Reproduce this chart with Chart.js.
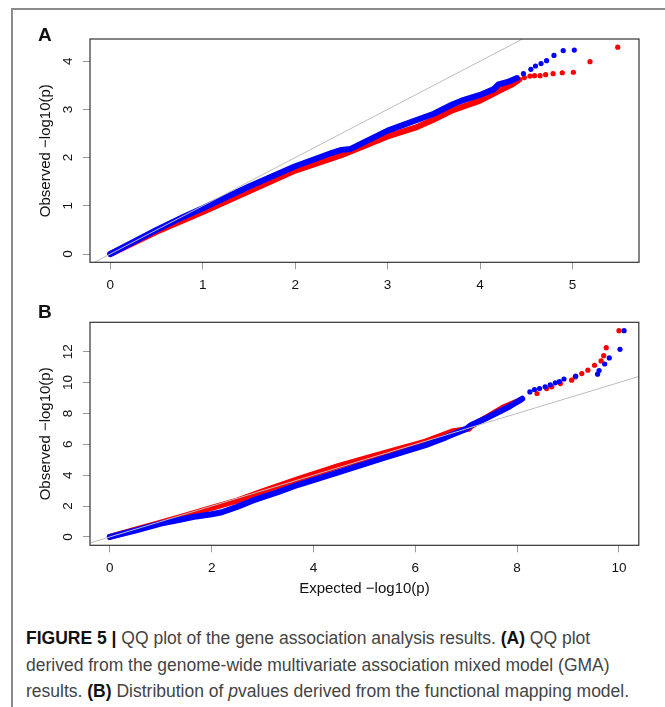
<!DOCTYPE html>
<html>
<head>
<meta charset="utf-8">
<script src="https://cdn.jsdelivr.net/npm/chart.js@4.4.1/dist/chart.umd.min.js"></script>
<style>
html, body { margin: 0; padding: 0; background: #fff; }
body { width: 665px; height: 707px; position: relative; overflow: hidden; font-family: "Liberation Sans", Arial, sans-serif; }
#frame { position: absolute; left: 11px; top: 8px; width: 670px; height: 720px; border-left: 2px solid #8c8c8c; border-top: 2px solid #8c8c8c; }
canvas { position: absolute; left: 0; }
#qqA { top: 0; }
#qqB { top: 290px; }
.tag { position: absolute; left: 38px; font-weight: bold; font-size: 19px; line-height: 1; color: #111; }
#caption { position: absolute; left: 26px; top: 625px; font-family: "Liberation Sans", Arial, sans-serif; font-size: 17.5px; line-height: 26.5px; color: #444; white-space: nowrap; }
#caption b { font-weight: 700; color: #111; }
</style>
</head>
<body>
<div id="frame"></div>
<canvas id="qqA" width="665" height="300"></canvas>
<canvas id="qqB" width="665" height="320"></canvas>
<div class="tag" style="top:25px">A</div>
<div class="tag" style="top:302px">B</div>
<div id="caption"><b>FIGURE 5 |</b> QQ plot of the gene association analysis results. <b>(A)</b> QQ plot<br>derived from the genome-wide multivariate association mixed model (GMA)<br>results. <b>(B)</b> Distribution of <i>p</i>values derived from the functional mapping model.</div>
<script>
// panel A: dense part of each curve (drawn as a thick line) and the sparse tail points
const aBlueBandX = [0, 0.5, 0.8, 1, 1.5, 2, 2.4, 2.5, 2.6, 3, 3.2, 3.5, 3.7, 3.8, 4, 4.15, 4.2, 4.3, 4.4];
const aBlueBandY = [0, 0.5, 0.78, 0.95, 1.4, 1.82, 2.1, 2.16, 2.18, 2.56, 2.7, 2.91, 3.1, 3.18, 3.3, 3.42, 3.52, 3.57, 3.65];
const aBlueTailX = [4.47, 4.55, 4.6, 4.66, 4.72, 4.8, 4.9, 5.02];
const aBlueTailY = [3.74, 3.83, 3.9, 3.95, 4.01, 4.12, 4.22, 4.23];
const aRedBandX = [0, 0.5, 1, 1.5, 2, 2.5, 3, 3.3, 3.5, 3.7, 4, 4.2, 4.35, 4.41];
const aRedBandY = [0, 0.46, 0.87, 1.3, 1.73, 2.05, 2.44, 2.62, 2.79, 2.98, 3.18, 3.38, 3.52, 3.6];
const aRedTailX = [4.43, 4.48, 4.54, 4.59, 4.65, 4.71, 4.79, 4.89, 5.01, 5.19, 5.49];
const aRedTailY = [3.62, 3.66, 3.69, 3.7, 3.7, 3.72, 3.74, 3.76, 3.77, 3.99, 4.29];
const aXTicks = [0, 1, 2, 3, 4, 5];
const aYTicks = [0, 1, 2, 3, 4];

// panel B
const bBlueBandX = [0, 0.5, 1, 1.4, 1.7, 2, 2.2, 2.5, 2.8, 3.3, 3.7, 4.5, 5.35, 6.2, 6.6, 7, 7.1, 7.4, 7.85, 8.1];
const bBlueBandY = [0, 0.42, 0.86, 1.13, 1.33, 1.47, 1.6, 1.95, 2.35, 2.9, 3.38, 4.2, 5.08, 5.95, 6.45, 7.0, 7.25, 7.7, 8.45, 8.95];
const bBlueTailX = [8.25, 8.34, 8.44, 8.55, 8.65, 8.75, 8.83, 8.92, 9.15, 9.58, 9.61, 9.72, 9.81, 10.02, 10.1];
const bBlueTailY = [9.39, 9.55, 9.61, 9.72, 9.85, 9.98, 10.06, 10.23, 10.41, 10.54, 10.78, 11.2, 11.59, 12.15, 13.36];
const bRedBandX = [0, 0.5, 1, 1.5, 2, 2.5, 3, 3.7, 4.5, 5.35, 6.2, 6.75, 6.95, 7.05, 7.1, 7.4, 7.75, 8.06];
const bRedBandY = [0, 0.47, 0.93, 1.4, 1.88, 2.35, 2.95, 3.75, 4.6, 5.4, 6.18, 6.85, 6.95, 7.0, 7.2, 7.75, 8.42, 8.86];
const bRedTailX = [8.39, 8.58, 8.68, 8.85, 9.07, 9.14, 9.27, 9.39, 9.52, 9.65, 9.7, 9.75, 10.0];
const bRedTailY = [9.29, 9.61, 9.72, 9.93, 10.15, 10.36, 10.58, 10.8, 11.12, 11.4, 11.74, 12.26, 13.36];
const bXTicks = [0, 2, 4, 6, 8, 10];
const bYTicks = [0, 2, 4, 6, 8, 10, 12];

// y = x reference line
const refLine = [-1, 15];

const FONT = '"Liberation Sans", Arial, sans-serif';
const BLUE = '#0000ff';
const RED = '#ff0000';

const pts = (xs, ys) => xs.map((x, i) => ({ x: x, y: ys[i] }));

const band = (xs, ys, color, order) => ({
    data: pts(xs, ys), showLine: true, borderColor: color, borderWidth: 6,
    borderCapStyle: 'round', borderJoinStyle: 'round', pointRadius: 0, order: order
});
const tail = (xs, ys, color, order) => ({
    data: pts(xs, ys), pointRadius: 2.6, pointBorderWidth: 0,
    backgroundColor: color, borderColor: color, order: order
});

// R-like box and vertical (rotated) y tick labels
const rBox = {
    id: 'rBox',
    afterDraw(chart) {
        const { ctx, chartArea: a, scales: { y } } = chart;
        ctx.save();
        ctx.strokeStyle = '#333';
        ctx.lineWidth = 1.2;
        ctx.strokeRect(a.left, a.top, a.right - a.left, a.bottom - a.top);
        ctx.fillStyle = '#111';
        ctx.font = '13.5px ' + FONT;
        ctx.textAlign = 'center';
        ctx.textBaseline = 'middle';
        y.ticks.forEach(t => {
            ctx.save();
            ctx.translate(68, y.getPixelForValue(t.value));
            ctx.rotate(-Math.PI / 2);
            ctx.fillText(String(t.value), 0, 0);
            ctx.restore();
        });
        ctx.restore();
    }
};

function qqChart(id, cfg) {
    return new Chart(document.getElementById(id), {
        type: 'scatter',
        data: {
            datasets: [
                { data: pts(refLine, refLine), showLine: true, borderColor: '#bdbdbd', borderWidth: 1, pointRadius: 0, order: 0 },
                band(cfg.blueBand[0], cfg.blueBand[1], BLUE, 1),
                tail(cfg.blueTail[0], cfg.blueTail[1], BLUE, 1),
                band(cfg.redBand[0], cfg.redBand[1], RED, 2),
                tail(cfg.redTail[0], cfg.redTail[1], RED, 2)
            ]
        },
        options: {
            responsive: false,
            animation: false,
            events: [],
            layout: { padding: cfg.padding },
            plugins: { legend: { display: false }, tooltip: { enabled: false } },
            scales: {
                x: {
                    type: 'linear', min: cfg.xRange[0], max: cfg.xRange[1],
                    afterBuildTicks: s => { s.ticks = cfg.xTicks.map(v => ({ value: v })); },
                    afterFit: s => { s.height = cfg.xHeight; },
                    grid: { drawOnChartArea: false, drawTicks: true, tickLength: 7, color: '#9a9a9a' },
                    border: { display: false },
                    ticks: { color: '#111', font: { size: 13.5, family: FONT }, padding: 7.5, maxRotation: 0 },
                    title: cfg.xTitle
                },
                y: {
                    type: 'linear', min: cfg.yRange[0], max: cfg.yRange[1],
                    afterBuildTicks: s => { s.ticks = cfg.yTicks.map(v => ({ value: v })); },
                    afterFit: s => { s.width = 90; },
                    grid: { drawOnChartArea: false, drawTicks: true, tickLength: 7, color: '#9a9a9a' },
                    border: { display: false },
                    ticks: { display: false },
                    title: { display: true, text: 'Observed \u2212log10(p)', color: '#111', font: { size: 15, family: FONT }, padding: { top: 36.5, bottom: 0 } }
                }
            }
        },
        plugins: [rBox]
    });
}

const chartA = qqChart('qqA', {
    blueBand: [aBlueBandX, aBlueBandY], blueTail: [aBlueTailX, aBlueTailY],
    redBand: [aRedBandX, aRedBandY], redTail: [aRedTailX, aRedTailY],
    xTicks: aXTicks, yTicks: aYTicks,
    xRange: [-0.22, 5.72], yRange: [-0.172, 4.46],
    padding: { left: 0, top: 39, right: 26, bottom: 0 },
    xHeight: 37.7,
    xTitle: { display: false }
});

const chartB = qqChart('qqB', {
    blueBand: [bBlueBandX, bBlueBandY], blueTail: [bBlueTailX, bBlueTailY],
    redBand: [bRedBandX, bRedBandY], redTail: [bRedTailX, bRedTailY],
    xTicks: bXTicks, yTicks: bYTicks,
    xRange: [-0.39, 10.39], yRange: [-0.54, 13.9],
    padding: { left: 0, top: 32.3, right: 26.2, bottom: 0 },
    xHeight: 64.7,
    xTitle: { display: true, text: 'Expected \u2212log10(p)', color: '#111', font: { size: 15, family: FONT }, padding: { top: 0, bottom: 12 } }
});
</script>
</body>
</html>
